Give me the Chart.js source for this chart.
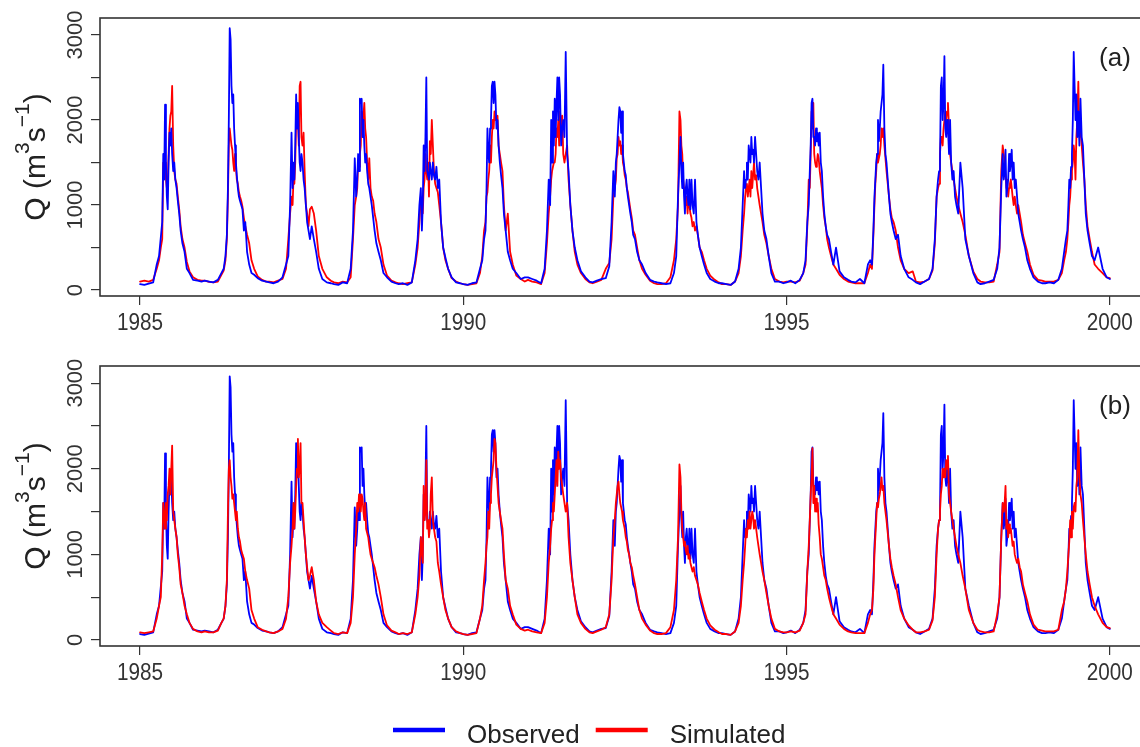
<!DOCTYPE html>
<html>
<head>
<meta charset="utf-8">
<script src="https://cdn.jsdelivr.net/npm/chart.js@4.4.1/dist/chart.umd.min.js"></script>
<style>
  html, body { margin: 0; padding: 0; background: #fff; width: 1140px; height: 747px; overflow: hidden; }
  .panel { position: absolute; left: 0; }
  #panelA { top: 0; }
  #panelB { top: 350px; }
</style>
</head>
<body>
<canvas id="panelA" class="panel" width="1152" height="340"></canvas>
<canvas id="panelB" class="panel" width="1152" height="397"></canvas>
<script>
// discharge record 1985-1999, sampled on the same days of every year
const years = [1985, 1986, 1987, 1988, 1989, 1990, 1991, 1992, 1993, 1994, 1995, 1996, 1997, 1998, 1999];
const sampleDays = [1, 25, 50, 75, 95, 108, 118, 126, 132, 137, 142, 147, 152, 157, 162, 167, 172, 177,
                    182, 188, 194, 200, 207, 214, 222, 230, 240, 252, 265, 280, 300, 325, 348];

// Q in m3/s, one row per year
const observed = [
  [70, 60, 75, 90, 300, 400, 620, 800, 1600, 1300, 2180, 1500, 1100, 950, 1500, 1850, 1700, 1900, 1600, 1400, 1500, 1300, 1200, 1050, 900, 700, 550, 450, 250, 200, 120, 110, 100],
  [110, 100, 90, 120, 200, 250, 400, 650, 1200, 2000, 3080, 2950, 2400, 2200, 2300, 1900, 1700, 1500, 1350, 1200, 1100, 1050, 1000, 950, 700, 800, 450, 300, 200, 180, 140, 110, 100],
  [90, 80, 100, 150, 300, 400, 1000, 1850, 1200, 1500, 1300, 1700, 2300, 1900, 2200, 1800, 1500, 1400, 1600, 1500, 1300, 1200, 1000, 800, 700, 600, 750, 600, 450, 250, 130, 90, 80],
  [70, 60, 90, 80, 250, 700, 1550, 1100, 1300, 1600, 1400, 2250, 2200, 2250, 1800, 2000, 1700, 1500, 1600, 1400, 1250, 1200, 1100, 1000, 850, 700, 550, 450, 350, 200, 150, 100, 80],
  [70, 80, 60, 90, 350, 600, 1000, 1200, 700, 1000, 1700, 1400, 1800, 2500, 1400, 1350, 1300, 1500, 1400, 1300, 1500, 1350, 1300, 1450, 1200, 1300, 800, 500, 380, 250, 150, 90, 80],
  [70, 60, 80, 90, 250, 350, 600, 700, 1200, 1900, 1600, 1500, 1900, 2000, 2400, 2450, 2200, 2450, 2300, 1900, 2000, 1700, 1500, 1350, 1200, 900, 700, 450, 350, 250, 200, 130, 150],
  [150, 130, 110, 80, 250, 700, 1300, 1000, 2000, 1500, 2100, 1700, 2250, 1800, 2200, 2500, 2000, 2500, 2300, 1700, 1900, 2000, 1800, 2800, 1600, 1400, 1000, 700, 500, 350, 220, 150, 100],
  [90, 110, 130, 140, 280, 800, 1400, 1100, 1500, 1600, 1800, 2000, 2150, 2100, 1850, 2100, 1600, 1500, 1400, 1350, 1200, 1100, 1000, 900, 800, 650, 600, 450, 350, 300, 200, 120, 100],
  [90, 80, 70, 80, 200, 400, 1100, 1500, 1800, 1400, 1200, 1500, 1100, 900, 1200, 1300, 1100, 1000, 1300, 950, 1300, 1000, 900, 1300, 800, 650, 500, 400, 300, 200, 130, 100, 80],
  [80, 70, 60, 100, 250, 500, 1000, 1400, 1200, 1300, 1500, 1300, 1700, 1600, 1500, 1800, 1600, 1650, 1500, 1800, 1600, 1400, 1300, 1500, 1200, 900, 700, 600, 400, 200, 100, 100, 80],
  [90, 110, 80, 120, 200, 350, 800, 1000, 1400, 1700, 2200, 2250, 1800, 1800, 1700, 1900, 1750, 1850, 1700, 1850, 1500, 1400, 1100, 900, 750, 650, 600, 450, 300, 500, 220, 150, 120],
  [100, 90, 130, 80, 300, 350, 300, 700, 1100, 1300, 1500, 1600, 2000, 1750, 1900, 2100, 2200, 2300, 2650, 1900, 1600, 1500, 1300, 1100, 900, 800, 700, 600, 650, 400, 250, 150, 120],
  [90, 70, 100, 130, 250, 600, 1100, 1300, 1400, 1500, 2400, 2500, 2000, 2200, 2750, 1900, 1800, 2000, 1900, 1600, 2000, 1500, 1300, 1400, 1100, 1000, 900, 1500, 1200, 600, 400, 200, 90],
  [70, 80, 100, 120, 250, 500, 1200, 1600, 1300, 1400, 1650, 1100, 1200, 1300, 1600, 1400, 1500, 1650, 1300, 1500, 1200, 1300, 1100, 900, 800, 700, 600, 500, 350, 250, 150, 100, 80],
  [80, 90, 80, 120, 250, 450, 600, 700, 1000, 1300, 1200, 1450, 1600, 2000, 2800, 2400, 2000, 2300, 1800, 2100, 1700, 2250, 1800, 1700, 1300, 900, 700, 550, 400, 350, 500, 250, 150]
];
const observedLast = 130;

// model run shown in panel (a)
const simulatedA = [
  [100, 110, 100, 120, 250, 350, 500, 600, 1500, 1350, 1500, 1300, 1200, 1250, 1600, 1900, 2050, 2100, 2400, 1700, 1400, 1300, 1250, 1100, 950, 750, 600, 500, 330, 220, 150, 120, 110],
  [110, 95, 90, 100, 180, 230, 350, 600, 1100, 1700, 1900, 1800, 1700, 1650, 1500, 1400, 1600, 1450, 1300, 1250, 1150, 1100, 1050, 980, 850, 750, 650, 550, 350, 250, 160, 120, 100],
  [100, 90, 110, 130, 250, 600, 900, 1100, 1000, 1300, 1250, 1500, 2000, 2100, 2000, 1700, 2400, 2450, 1800, 1700, 1850, 1400, 1000, 900, 750, 950, 980, 900, 700, 400, 250, 150, 110],
  [90, 80, 100, 90, 150, 600, 1000, 1100, 1200, 1500, 1450, 1600, 1700, 2100, 1900, 2050, 2200, 1900, 1800, 1500, 1300, 1550, 1200, 1100, 1050, 900, 800, 600, 500, 300, 170, 110, 90],
  [80, 70, 80, 90, 300, 500, 800, 1100, 1000, 900, 1200, 1300, 1600, 1400, 1300, 1500, 1100, 1750, 1600, 2000, 1700, 1400, 1250, 1200, 1150, 1000, 800, 500, 350, 250, 140, 100, 80],
  [70, 60, 70, 80, 200, 400, 700, 800, 1100, 1150, 1300, 1400, 1700, 1500, 1800, 2000, 1900, 2100, 2000, 2000, 2050, 1700, 1600, 1500, 1400, 1000, 700, 900, 450, 300, 170, 130, 100],
  [120, 100, 90, 70, 200, 550, 900, 1100, 1300, 1400, 1400, 1500, 1500, 1600, 1900, 1800, 2000, 1700, 2100, 1900, 2050, 1600, 1500, 1600, 1700, 1300, 1000, 700, 450, 300, 200, 130, 90],
  [80, 100, 120, 250, 320, 600, 1100, 1200, 1300, 1550, 1600, 1800, 1700, 1750, 1600, 1700, 1500, 1450, 1350, 1300, 1200, 1150, 1050, 950, 850, 700, 650, 500, 350, 250, 180, 110, 80],
  [70, 70, 80, 150, 350, 600, 1000, 2100, 2000, 1700, 1600, 1300, 1200, 1100, 1000, 1100, 900, 1100, 1000, 900, 850, 750, 800, 700, 750, 650, 500, 450, 350, 250, 170, 120, 90],
  [70, 70, 60, 100, 200, 400, 700, 900, 1100, 1200, 1250, 1100, 1200, 1300, 1100, 1400, 1200, 1350, 1500, 1300, 1350, 1200, 1100, 1000, 900, 800, 650, 550, 400, 250, 130, 100, 90],
  [100, 100, 90, 110, 200, 300, 750, 1300, 1200, 1600, 2100, 1900, 2200, 1600, 1500, 1450, 1500, 1600, 1550, 1400, 1300, 1200, 1000, 850, 750, 600, 500, 400, 300, 250, 180, 130, 100],
  [90, 80, 80, 80, 200, 300, 250, 650, 1000, 1250, 1400, 1600, 1500, 1550, 1600, 1700, 1900, 1800, 1900, 1700, 1550, 1400, 1250, 1100, 950, 850, 800, 700, 500, 350, 250, 200, 220],
  [100, 90, 100, 130, 230, 550, 1100, 1200, 1250, 1600, 1800, 1800, 1700, 1900, 2000, 2100, 2000, 2100, 2200, 1900, 1600, 1500, 1400, 1300, 1200, 1100, 1000, 900, 800, 650, 400, 220, 130],
  [100, 90, 90, 100, 300, 450, 1400, 1700, 1600, 1500, 1350, 1200, 1300, 1100, 1200, 1250, 1300, 1200, 1100, 1000, 1100, 1000, 900, 1000, 900, 800, 650, 550, 450, 300, 180, 120, 110],
  [100, 100, 100, 120, 200, 350, 450, 600, 800, 1000, 1100, 1300, 1400, 1500, 1700, 1600, 1300, 1800, 2000, 2450, 1800, 1900, 1700, 1500, 1300, 1000, 750, 600, 450, 300, 250, 200, 150]
];
const simulatedALast = 140;

// model run shown in panel (b)
const simulatedB = [
  [90, 80, 90, 100, 250, 400, 500, 1000, 1600, 1500, 1300, 1600, 1400, 1700, 1800, 2000, 1700, 2000, 2270, 1500, 1400, 1300, 1200, 1000, 850, 650, 550, 400, 300, 200, 130, 100, 90],
  [100, 90, 90, 110, 200, 250, 400, 700, 1500, 2000, 2100, 1900, 1800, 1650, 1700, 1600, 1500, 1400, 1500, 1300, 1200, 1150, 1050, 1000, 950, 800, 700, 600, 350, 250, 150, 120, 100],
  [90, 80, 100, 130, 250, 500, 900, 1100, 1300, 1600, 1300, 1500, 1800, 2000, 2350, 1900, 2000, 2300, 1600, 1600, 1400, 1200, 1000, 850, 700, 750, 850, 700, 450, 300, 200, 150, 110],
  [80, 70, 90, 80, 200, 500, 1000, 1300, 1600, 1500, 1700, 1600, 1500, 1700, 1650, 1500, 1400, 1600, 1300, 1250, 1200, 1100, 1000, 950, 900, 850, 750, 650, 500, 300, 170, 110, 90],
  [70, 80, 70, 90, 300, 500, 750, 1200, 1000, 900, 1800, 1400, 1500, 2100, 1300, 1400, 1200, 1300, 1700, 1900, 1400, 1300, 1200, 1150, 900, 800, 650, 500, 350, 250, 150, 100, 80],
  [70, 60, 70, 80, 250, 400, 700, 900, 1100, 1200, 1500, 1300, 1600, 1700, 1900, 2000, 2100, 2350, 2300, 2000, 1800, 1600, 1500, 1400, 1300, 1000, 700, 600, 400, 300, 180, 130, 110],
  [120, 100, 90, 80, 200, 500, 900, 1100, 1300, 1400, 1600, 1500, 1700, 1900, 2100, 1800, 2200, 2000, 2100, 1900, 1800, 1700, 1600, 1500, 1600, 1200, 900, 700, 500, 300, 200, 130, 90],
  [80, 100, 120, 150, 300, 700, 1200, 1400, 1600, 1700, 1800, 1850, 1700, 1600, 1550, 1500, 1400, 1350, 1300, 1200, 1150, 1050, 1000, 900, 850, 750, 650, 500, 350, 250, 180, 110, 80],
  [70, 70, 80, 150, 350, 700, 1200, 2050, 1900, 1500, 1300, 1200, 1100, 1150, 1050, 1000, 1100, 950, 1000, 900, 850, 800, 850, 750, 700, 650, 550, 450, 350, 250, 170, 120, 90],
  [70, 70, 60, 100, 200, 400, 700, 900, 1100, 1300, 1200, 1400, 1300, 1500, 1300, 1400, 1500, 1450, 1300, 1400, 1300, 1200, 1100, 1000, 900, 800, 700, 550, 400, 250, 130, 100, 90],
  [90, 100, 90, 110, 200, 300, 800, 1100, 1400, 1700, 1900, 2240, 1600, 1800, 1500, 1650, 1500, 1600, 1350, 1200, 1000, 950, 850, 750, 700, 600, 500, 400, 300, 250, 180, 130, 100],
  [90, 80, 80, 80, 200, 300, 350, 600, 1000, 1200, 1400, 1600, 1550, 1650, 1700, 1800, 1900, 1750, 1800, 1600, 1500, 1400, 1250, 1100, 950, 850, 750, 650, 500, 350, 250, 170, 120],
  [90, 90, 100, 120, 230, 500, 1000, 1300, 1400, 1500, 1700, 1800, 2000, 1900, 2000, 1900, 2100, 2000, 2150, 1700, 1600, 1500, 1400, 1300, 1200, 1100, 1000, 900, 750, 600, 350, 200, 120],
  [100, 90, 90, 100, 300, 500, 1200, 1600, 1500, 1600, 1800, 1300, 1400, 1200, 1350, 1250, 1300, 1200, 1100, 1150, 1000, 950, 900, 950, 850, 800, 650, 550, 450, 300, 180, 120, 110],
  [100, 100, 100, 120, 350, 450, 600, 800, 1000, 1150, 1400, 1200, 1500, 1300, 1550, 1600, 1500, 1800, 1900, 2450, 1900, 1700, 1600, 1400, 1200, 1000, 800, 650, 500, 400, 300, 200, 150]
];
const simulatedBLast = 140;

const xTickYears = [1985, 1990, 1995, 2000];
const yTickValues = [0, 500, 1000, 1500, 2000, 2500, 3000];
const yTickLabels = [0, 1000, 2000, 3000];
const legendLabels = ['Observed', 'Simulated'];

const OBS_COLOR = '#0000ff';
const SIM_COLOR = '#ff0000';
const FONT = '"Liberation Sans", Arial, sans-serif';

// turn the yearly rows into {x: decimal year, y: Q} points
function toSeries(rows, last) {
  const pts = [];
  rows.forEach((row, i) => {
    row.forEach((q, j) => pts.push({ x: years[i] + (sampleDays[j] - 1) / 365, y: q }));
  });
  pts.push({ x: years[years.length - 1] + 1, y: last });
  return pts;
}

const obsPoints = toSeries(observed, observedLast);
const simAPoints = toSeries(simulatedA, simulatedALast);
const simBPoints = toSeries(simulatedB, simulatedBLast);

// frame, tick labels, axis title, panel tag and (optionally) the legend
const axisText = {
  id: 'axisText',
  afterDatasetsDraw(chart, args, opts) {
    const { ctx, chartArea: a, scales: { x, y } } = chart;
    ctx.save();

    ctx.strokeStyle = '#333';
    ctx.lineWidth = 1.6;
    ctx.strokeRect(a.left, a.top, a.right - a.left, a.bottom - a.top);

    ctx.fillStyle = '#333';
    ctx.textBaseline = 'alphabetic';

    // x tick labels, slightly narrow
    ctx.font = '23px ' + FONT;
    ctx.textAlign = 'center';
    xTickYears.forEach(v => {
      ctx.save();
      ctx.translate(x.getPixelForValue(v), a.bottom + 34);
      ctx.scale(0.9, 1);
      ctx.fillText(String(v), 0, 0);
      ctx.restore();
    });

    // y tick labels, reading upwards
    ctx.font = '22px ' + FONT;
    yTickLabels.forEach(v => {
      ctx.save();
      ctx.translate(a.left - 18, y.getPixelForValue(v));
      ctx.rotate(-Math.PI / 2);
      ctx.fillText(String(v), 0, 0);
      ctx.restore();
    });

    // axis title Q (m^3 s^-1)
    ctx.fillStyle = '#222';
    const size = 30;
    const parts = [['Q (m', false], ['3', true], ['s', false], ['\u22121', true], [')', false]];
    const widths = parts.map(([t, sup]) => {
      ctx.font = (sup ? size * 0.7 : size) + 'px ' + FONT;
      return ctx.measureText(t).width;
    });
    const total = widths.reduce((s, w) => s + w, 0);
    ctx.save();
    ctx.translate(45, (a.top + a.bottom) / 2);
    ctx.rotate(-Math.PI / 2);
    ctx.textAlign = 'left';
    let cx = -total / 2;
    parts.forEach(([t, sup], i) => {
      ctx.font = (sup ? size * 0.7 : size) + 'px ' + FONT;
      ctx.fillText(t, cx, sup ? -size * 0.55 : 0);
      cx += widths[i];
    });
    ctx.restore();

    // panel tag
    ctx.font = '26px ' + FONT;
    ctx.textAlign = 'center';
    ctx.fillText(opts.tag, 1115, a.top + 48);

    if (opts.legend) {
      const lineY = opts.legendY;
      let lx = 393;
      ctx.font = '26px ' + FONT;
      ctx.textAlign = 'left';
      legendLabels.forEach(label => {
        const ds = chart.data.datasets.find(d => d.label === label);
        ctx.strokeStyle = ds.borderColor;
        ctx.lineWidth = 4.5;
        ctx.beginPath();
        ctx.moveTo(lx, lineY);
        ctx.lineTo(lx + 52, lineY);
        ctx.stroke();
        ctx.fillStyle = '#222';
        ctx.fillText(label, lx + 74, lineY + 13);
        lx += 74 + ctx.measureText(label).width + 16;
      });
    }
    ctx.restore();
  }
};

function makePanel(id, datasets, tag, topPad, xAxisHeight, legend) {
  return new Chart(document.getElementById(id), {
    type: 'line',
    data: { datasets },
    plugins: [axisText],
    options: {
      responsive: false,
      animation: false,
      parsing: false,
      normalized: true,
      layout: { padding: { top: topPad, right: 4, left: 0, bottom: 0 } },
      elements: {
        point: { radius: 0 },
        line: { borderWidth: 1.8, tension: 0, borderJoinStyle: 'round', borderCapStyle: 'round' }
      },
      scales: {
        x: {
          type: 'linear',
          min: 1984.38,
          max: 2000.59,
          afterBuildTicks: s => { s.ticks = xTickYears.map(v => ({ value: v })); },
          afterFit: s => { s.height = xAxisHeight; },
          border: { display: false },
          grid: { drawOnChartArea: false, drawTicks: true, tickLength: 9, color: '#333', lineWidth: 1.2 },
          ticks: { display: false }
        },
        y: {
          min: -70,
          max: 3200,
          afterBuildTicks: s => { s.ticks = yTickValues.map(v => ({ value: v })); },
          afterFit: s => { s.width = 100; },
          border: { display: false },
          grid: { drawOnChartArea: false, drawTicks: true, tickLength: 9, color: '#333', lineWidth: 1.2 },
          ticks: { display: false }
        }
      },
      plugins: {
        legend: { display: false },
        tooltip: { enabled: false },
        axisText: { tag, legend, legendY: 380 }
      }
    }
  });
}

// panel (a): observed drawn over the simulation
makePanel('panelA', [
  { label: 'Observed', data: obsPoints, borderColor: OBS_COLOR, order: 0 },
  { label: 'Simulated', data: simAPoints, borderColor: SIM_COLOR, order: 1 }
], '(a)', 18, 44, false);

// panel (b): simulation drawn over the observed record
makePanel('panelB', [
  { label: 'Simulated', data: simBPoints, borderColor: SIM_COLOR, order: 0 },
  { label: 'Observed', data: obsPoints, borderColor: OBS_COLOR, order: 1 }
], '(b)', 16, 101, true);
</script>
</body>
</html>
